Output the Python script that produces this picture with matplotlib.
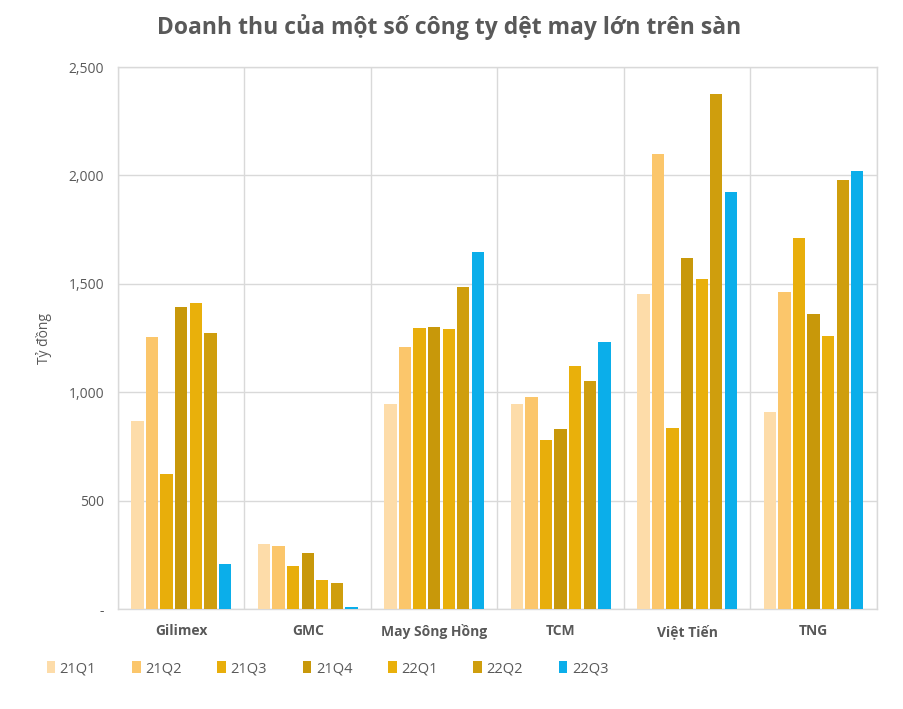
import numpy as np
import matplotlib
matplotlib.use('Agg')
import matplotlib.pyplot as plt
from matplotlib.ticker import FuncFormatter

plt.rcParams['font.family'] = ['Open Sans', 'DejaVu Sans']

# data (ty dong)
companies = ['Gilimex', 'GMC', 'May Sông Hồng', 'TCM', 'Việt Tiến', 'TNG']
quarters = ['21Q1', '21Q2', '21Q3', '21Q4', '22Q1', '22Q2', '22Q3']
q21_1 = [865, 300, 945, 945, 1455, 910]
q21_2 = [1255, 290, 1210, 980, 2100, 1460]
q21_3 = [625, 200, 1295, 780, 835, 1710]
q21_4 = [1395, 260, 1300, 830, 1620, 1360]
q22_1 = [1410, 135, 1290, 1120, 1520, 1260]
q22_2 = [1275, 120, 1485, 1050, 2375, 1980]
q22_3 = [210, 8, 1645, 1230, 1925, 2020]
series = [q21_1, q21_2, q21_3, q21_4, q22_1, q22_2, q22_3]
colors = ['#FDDCA9', '#FBC66B', '#E8AE0B', '#C8980A', '#E9B00B', '#CF9E0D', '#0BAEEA']

txt = '#595959'
grid = '#D9D9D9'

fig = plt.figure(figsize=(9.04, 7.09), dpi=100)
ax = fig.add_axes([0.1305, 0.141, 0.8395, 0.7645])

x = np.arange(len(companies))
slot = 0.115
w = 0.098
for i, (vals, c) in enumerate(zip(series, colors)):
    ax.bar(x + (i - 3) * slot, vals, width=w, color=c, label=quarters[i], zorder=3)

ax.set_xlim(-0.5, len(companies) - 0.5)
ax.set_ylim(0, 2500)
ax.set_yticks([0, 500, 1000, 1500, 2000, 2500])
ax.yaxis.set_major_formatter(FuncFormatter(lambda v, p: '-' if v == 0 else f'{int(v):,}'))
ax.set_xticks(x)
ax.set_xticklabels(companies, fontweight='bold', fontsize=10, color=txt)
ax.set_xticks(np.arange(-0.5, len(companies)), minor=True)
ax.grid(True, axis='y', color=grid, lw=1, zorder=0)
ax.grid(True, axis='x', which='minor', color=grid, lw=1, zorder=0)
ax.tick_params(axis='both', which='both', length=0, colors=txt, labelsize=10)
ax.tick_params(axis='x', pad=11)
ax.tick_params(axis='y', pad=10)
for s in ax.spines.values():
    s.set_color(grid)
    s.set_linewidth(1)

ax.set_ylabel('Tỷ đồng', color=txt, fontsize=10, labelpad=12)

fig.text(0.497, 0.962, 'Doanh thu của một số công ty dệt may lớn trên sàn',
         ha='center', va='center', fontsize=16.5, fontweight='bold', color=txt)

leg = fig.legend(loc='lower left', bbox_to_anchor=(0.037, 0.028), ncol=7, frameon=False,
                 handlelength=0.6, handleheight=0.8, handletextpad=0.3, columnspacing=2.45,
                 fontsize=10.5)
for t in leg.get_texts():
    t.set_color(txt)

fig.savefig('out.png', dpi=100)
